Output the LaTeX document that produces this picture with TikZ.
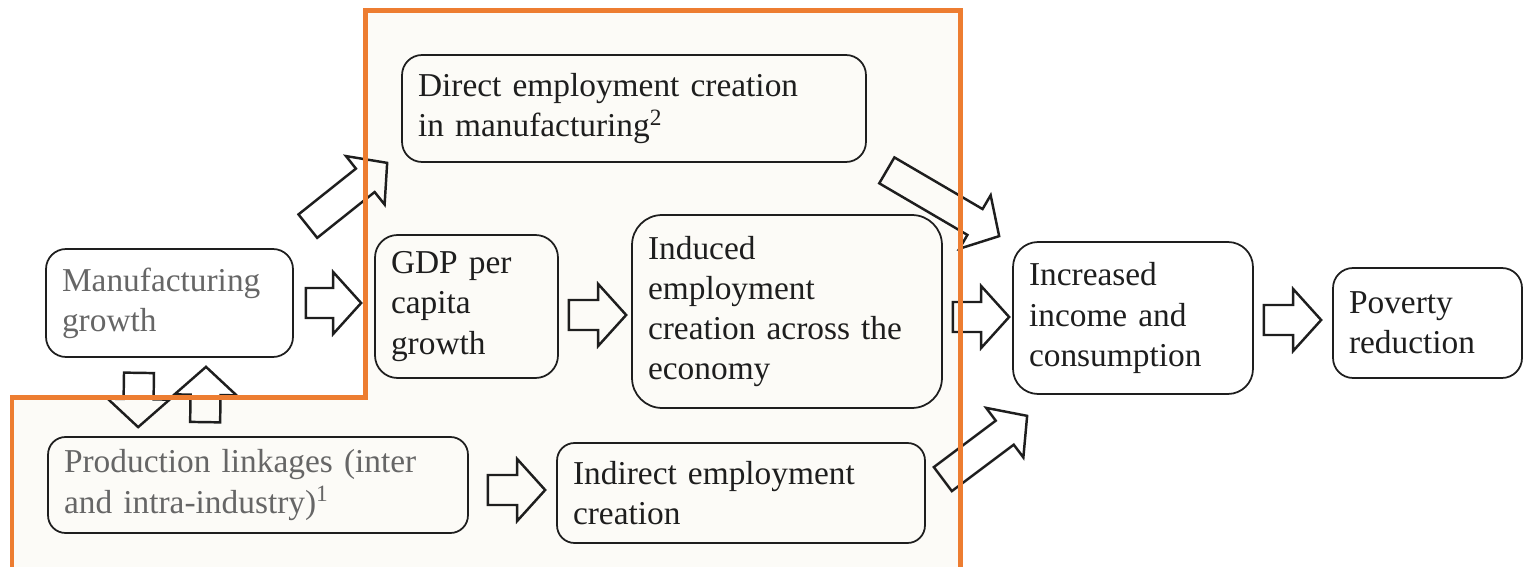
\documentclass[tikz,border=0pt]{standalone}
\usepackage{fontspec}
\setmainfont{Liberation Serif}
\usetikzlibrary{calc}
\definecolor{ink}{RGB}{30,30,30}
\definecolor{frameorange}{RGB}{237,125,49}
\definecolor{paper}{RGB}{252,251,247}

% hollow block arrow from #1 to #2
\newcommand{\blockarrow}[2]{%
  \coordinate (ba-s) at (#1);
  \coordinate (ba-e) at (#2);
  \coordinate (ba-h) at ($(ba-e)!0.56cm!(ba-s)$);
  \draw[ARR] ($(ba-s)!0.3cm!90:(ba-e)$) -- ($(ba-h)!0.3cm!-90:(ba-s)$)
    -- ($(ba-h)!0.62cm!-90:(ba-s)$) -- (ba-e)
    -- ($(ba-h)!0.62cm!90:(ba-s)$) -- ($(ba-h)!0.3cm!90:(ba-s)$)
    -- ($(ba-s)!0.3cm!-90:(ba-e)$) -- cycle;}

\begin{document}
\begin{tikzpicture}[x=0.02cm, y=-0.02cm,
    BOX/.style={rectangle, draw=ink, line width=1pt, rounded corners=0.4cm, align=left,
                inner xsep=0.32cm, inner ysep=0pt, text=ink,
                font=\fontsize{19}{22.8}\selectfont},
    ARR/.style={draw=ink, line width=1.4pt, line join=miter}]

    \useasboundingbox (0,0) rectangle (1525,567);
    \fill[paper] (365,11) -- (960,11) -- (960,575) -- (12,575) -- (12,398) -- (365,398) -- cycle;

    \node[BOX, text=black!60, text width=4.3cm, minimum height=2.16cm] (MG) at (169.5,303)
        {Manufacturing\\growth};
    \node[BOX, text width=8.64cm, minimum height=2.14cm] (DE) at (634,108.5)
        {Direct employment creation\\in manufacturing\textsuperscript{2}};
    \node[BOX, text width=3.02cm, minimum height=2.86cm, rounded corners=0.45cm] (GDP) at (466.5,306.5)
        {GDP per\\capita\\growth};
    \node[BOX, text width=5.56cm, minimum height=3.86cm, rounded corners=0.6cm] (IE) at (787,311.5)
        {Induced\\employment\\creation across the\\economy};
    \node[BOX, text=black!60, text width=7.76cm, minimum height=1.92cm, rounded corners=0.35cm] (PL) at (258,485)
        {Production linkages (inter\\and intra-industry)\textsuperscript{1}};
    \node[BOX, text width=6.72cm, minimum height=2.0cm, rounded corners=0.35cm] (ID) at (741,493)
        {Indirect employment\\creation};
    \node[BOX, text width=4.16cm, minimum height=3.04cm, rounded corners=0.5cm] (IN) at (1133,318)
        {Increased\\income and\\consumption};
    \node[BOX, text width=3.14cm, minimum height=2.2cm] (PR) at (1427.5,323)
        {Poverty\\reduction};

    \blockarrow{[xshift=0.24cm]MG.east}{[xshift=-0.26cm,yshift=0.07cm]GDP.west}
    \blockarrow{[xshift=0.28cm,yshift=0.44cm]MG.north east}{[xshift=-0.28cm]DE.south west}
    \blockarrow{[xshift=-0.61cm,yshift=-0.3cm]MG.south}{[xshift=1.82cm,yshift=0.18cm]PL.north west}
    \blockarrow{[xshift=3.16cm,yshift=0.28cm]PL.north west}{[xshift=0.73cm,yshift=-0.18cm]MG.south}
    \blockarrow{[xshift=0.2cm,yshift=-0.17cm]GDP.east}{[xshift=-0.1cm,yshift=-0.07cm]IE.west}
    \blockarrow{[xshift=0.38cm,yshift=-0.1cm]PL.east}{[xshift=-0.22cm,yshift=0.06cm]ID.west}
    \blockarrow{[xshift=0.4cm,yshift=-0.15cm]DE.south east}{[xshift=-0.26cm,yshift=0.1cm]IN.north west}
    \blockarrow{[xshift=0.2cm,yshift=-0.11cm]IE.east}{[xshift=-0.06cm,yshift=0.02cm]IN.west}
    \blockarrow{[xshift=0.34cm,yshift=-0.74cm]ID.north east}{[xshift=0.3cm,yshift=-0.42cm]IN.south west}
    \blockarrow{[xshift=0.2cm,yshift=-0.04cm]IN.east}{[xshift=-0.22cm,yshift=0.06cm]PR.west}

    % orange frame on top
    \draw[frameorange, line width=0.1cm] (12,575) -- (12,398) -- (365,398) -- (365,11) -- (960,11) -- (960,575);
\end{tikzpicture}
\end{document}
